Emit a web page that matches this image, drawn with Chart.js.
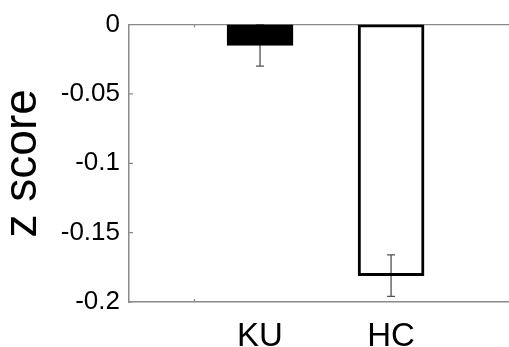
<!DOCTYPE html>
<html>
<head>
<meta charset="utf-8">
<script src="https://cdn.jsdelivr.net/npm/chart.js@4"></script>
<style>
  html, body { margin: 0; padding: 0; background: #fff; }
  #wrap { width: 509px; height: 347px; }
</style>
</head>
<body>
<div id="wrap"><canvas id="chart" width="509" height="347"></canvas></div>
<script>
const groups = ["KU", "HC"];
const groupPos = [1, 2];
const means = [-0.015, -0.181];
const errors = [0.015, 0.015];
const yTicks = [0, -0.05, -0.1, -0.15, -0.2];
const yTickLabels = ["0", "-0.05", "-0.1", "-0.15", "-0.2"];
const xMinorTicks = [0.5];

const axisGray = "#8a8a8a";
const font = "'Liberation Sans', Arial, sans-serif";

// error bars + inner tick marks + top frame line
const extras = {
  id: "extras",
  afterDatasetsDraw(chart) {
    const ctx = chart.ctx;
    const x = chart.scales.x;
    const y = chart.scales.y;
    const area = chart.chartArea;

    ctx.save();
    // darken: the gray whisker vanishes inside the black bar, shows on white
    ctx.globalCompositeOperation = "darken";
    ctx.strokeStyle = "#505050";
    ctx.lineWidth = 1.3;
    groupPos.forEach((p, i) => {
      const px = x.getPixelForValue(p);
      const top = y.getPixelForValue(means[i] + errors[i]);
      const bot = y.getPixelForValue(means[i] - errors[i]);
      ctx.beginPath();
      ctx.moveTo(px, top);
      ctx.lineTo(px, bot);
      ctx.moveTo(px - 4, top);
      ctx.lineTo(px + 4, top);
      ctx.moveTo(px - 4, bot);
      ctx.lineTo(px + 4, bot);
      ctx.stroke();
    });

    ctx.strokeStyle = axisGray;
    ctx.lineWidth = 1.2;
    ctx.beginPath();
    ctx.moveTo(area.left, area.top);
    ctx.lineTo(area.right, area.top);
    yTicks.forEach(v => {
      const py = y.getPixelForValue(v);
      ctx.moveTo(area.left, py);
      ctx.lineTo(area.left + 4, py);
    });
    xMinorTicks.forEach(v => {
      const px = x.getPixelForValue(v);
      ctx.moveTo(px, area.top);
      ctx.lineTo(px, area.top + 3);
      ctx.moveTo(px, area.bottom);
      ctx.lineTo(px, area.bottom - 3);
    });
    ctx.stroke();
    ctx.restore();
  }
};

new Chart(document.getElementById("chart"), {
  type: "bar",
  data: {
    datasets: [{
      data: groupPos.map((p, i) => ({ x: p, y: means[i] })),
      backgroundColor: ["#000000", "#ffffff"],
      borderColor: "#000000",
      borderWidth: 3,
      borderSkipped: false,
      barThickness: 66
    }]
  },
  options: {
    responsive: false,
    animation: false,
    layout: { padding: { top: 22, right: 0, left: 0, bottom: 0 } },
    plugins: { legend: { display: false }, tooltip: { enabled: false } },
    scales: {
      x: {
        type: "linear",
        offset: false,
        min: 0,
        max: 2.9,
        afterFit: s => { s.height = 45; },
        afterBuildTicks: s => { s.ticks = groupPos.map(v => ({ value: v })); },
        grid: { display: false, drawTicks: false, offset: false },
        border: { display: true, color: axisGray, width: 1.5 },
        ticks: {
          padding: 15,
          color: "#000",
          font: { family: font, size: 33 },
          callback: v => groups[groupPos.indexOf(v)] || ""
        }
      },
      y: {
        min: -0.2,
        max: 0,
        afterFit: s => { s.width = 129; },
        afterBuildTicks: s => { s.ticks = yTicks.map(v => ({ value: v })); },
        grid: { display: false, drawTicks: false },
        border: { display: true, color: axisGray, width: 1.5 },
        title: {
          display: true,
          text: "z score",
          color: "#000",
          padding: { top: 0, bottom: 0 },
          font: { family: font, size: 46, lineHeight: 1.0 }
        },
        ticks: {
          padding: 9,
          color: "#000",
          font: { family: font, size: 26 },
          callback: v => yTickLabels[yTicks.indexOf(v)]
        }
      }
    }
  },
  plugins: [extras]
});
</script>
</body>
</html>
